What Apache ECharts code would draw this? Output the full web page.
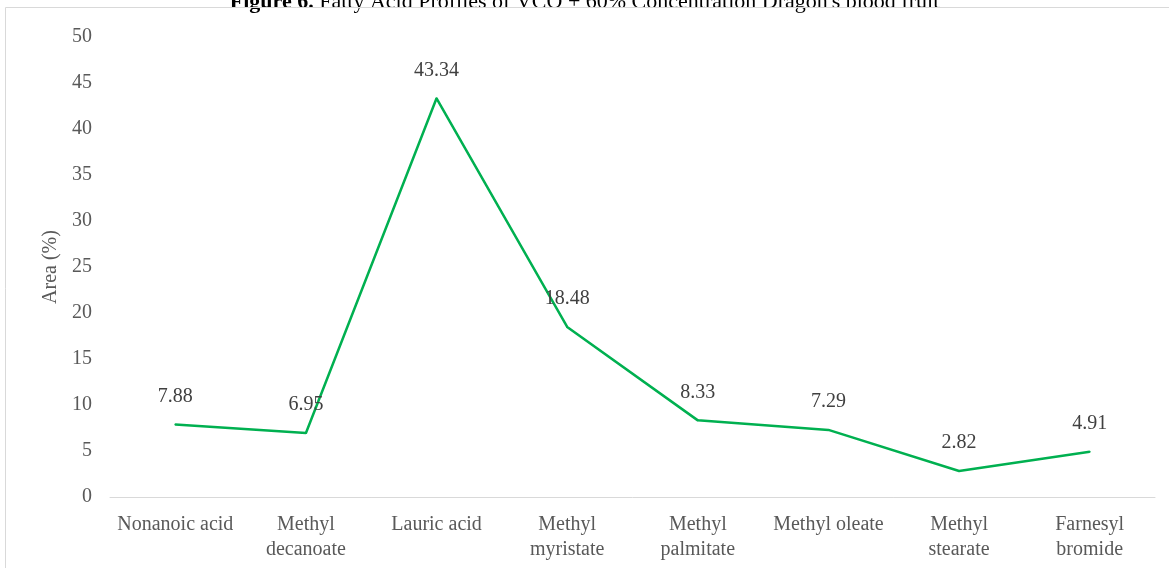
<!DOCTYPE html>
<html>
<head>
<meta charset="utf-8">
<script src="https://cdn.jsdelivr.net/npm/echarts@6/dist/echarts.min.js"></script>
<style>
  html, body { margin: 0; padding: 0; background: #fff; }
  #main { width: 1169px; height: 568px; }
</style>
</head>
<body>
<div id="main"></div>
<script>
// categories on the x axis (line breaks as in the original)
const categories = [
  'Nonanoic acid',
  'Methyl\ndecanoate',
  'Lauric acid',
  'Methyl\nmyristate',
  'Methyl\npalmitate',
  'Methyl oleate',
  'Methyl\nstearate',
  'Farnesyl\nbromide'
]
// area values (%)
const areaValues = [7.88, 6.95, 43.34, 18.48, 8.33, 7.29, 2.82, 4.91]

const textColor = '#595959'
const font = 'Liberation Serif, Times New Roman, serif'

let myChart = echarts.init(document.getElementById('main'))

myChart.setOption({
  animation: false,
  textStyle: { fontFamily: font },
  title: {
    text: '{b|Figure 6.} Fatty Acid Profiles of VCO + 60% Concentration Dragon\'s blood fruit',
    left: 'center',
    top: -14,
    textStyle: {
      fontFamily: font,
      fontSize: 22,
      fontWeight: 'normal',
      color: '#000',
      rich: {
        b: { fontFamily: font, fontSize: 22, fontWeight: 'bold', color: '#000' }
      }
    }
  },
  // light frame around the chart area
  graphic: [{
    type: 'rect',
    shape: { x: 5.5, y: 7.5, width: 1180, height: 600 },
    style: { fill: 'none', stroke: '#d9d9d9', lineWidth: 1 },
    silent: true,
    z: 100
  }],
  grid: {
    left: 110,
    right: 14,
    top: 37,
    bottom: 71
  },
  xAxis: {
    type: 'category',
    data: categories,
    boundaryGap: true,
    axisLine: { lineStyle: { color: '#d9d9d9', width: 1 } },
    axisTick: { show: false },
    axisLabel: {
      color: textColor,
      fontSize: 20,
      lineHeight: 25,
      margin: 15,
      interval: 0,
      fontFamily: font
    }
  },
  yAxis: {
    type: 'value',
    min: 0,
    max: 50,
    interval: 5,
    name: 'Area (%)',
    nameLocation: 'middle',
    nameGap: 48,
    nameRotate: 90,
    nameTextStyle: { color: textColor, fontSize: 20, fontFamily: font },
    axisLine: { show: false },
    axisTick: { show: false },
    splitLine: { show: false },
    axisLabel: {
      color: textColor,
      fontSize: 20,
      margin: 18,
      padding: [4, 0, 0, 0],
      fontFamily: font
    }
  },
  series: [{
    type: 'line',
    data: areaValues,
    symbol: 'circle',
    symbolSize: 2,
    showSymbol: true,
    lineStyle: { color: '#00B050', width: 2.5 },
    itemStyle: { color: '#00B050' },
    label: {
      show: true,
      position: 'top',
      distance: 17,
      color: '#404040',
      fontSize: 20,
      fontFamily: font,
      formatter: p => p.value.toFixed(2)
    }
  }]
})
</script>
</body>
</html>
